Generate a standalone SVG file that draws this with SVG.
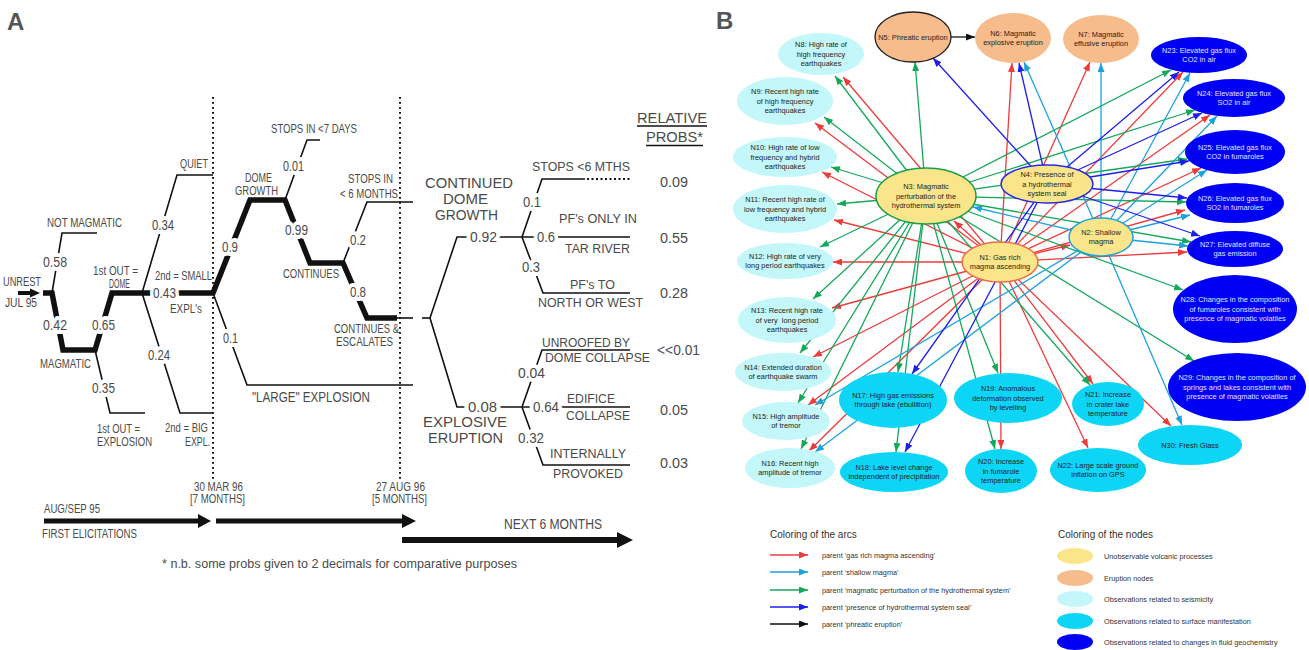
<svg xmlns="http://www.w3.org/2000/svg" width="1309" height="650" viewBox="0 0 1309 650">
<defs>
<style>
.ta{font-family:"Liberation Sans Narrow","Liberation Sans",Arial,sans-serif;fill:#4a4a4a}
.s12{font-size:12px}.s14{font-size:14px}.s15{font-size:15px}.s16{font-size:15px}
.halo{paint-order:stroke;stroke:#fff;stroke-width:8px;stroke-linejoin:round}
.thin{fill:none;stroke:#111;stroke-width:1.6}
.thick{fill:none;stroke:#111;stroke-width:5.5}
.dot{stroke:#111;stroke-width:2;stroke-dasharray:1.8 3.2}
.dots{stroke:#111;stroke-width:2;stroke-dasharray:2 2.5}
.lbl{font-family:"Liberation Sans",Arial,sans-serif;font-weight:bold;font-size:24px;fill:#555}
.nt{font-family:"Liberation Sans",Arial,sans-serif;font-size:7.4px;fill:#222;text-anchor:middle}
.ntw{fill:#e4e4ff}
.yel{fill:#fbe58b}.ora{fill:#f7bc8b}.sei{fill:#c3f7f9}.sur{fill:#0dd5f5}.geo{fill:#0000f5}
.e{stroke-width:1.3;fill:none}
.r{stroke:#ec3b3b;marker-end:url(#mr)}
.lb{stroke:#1da1dc;marker-end:url(#mlb)}
.g{stroke:#14a85b;marker-end:url(#mg)}
.b{stroke:#1f1fea;marker-end:url(#mb)}
.k{stroke:#111;marker-end:url(#mk)}
.lg{font-family:"Liberation Sans",Arial,sans-serif;font-size:7.3px;fill:#333}
.lgh{font-family:"Liberation Sans",Arial,sans-serif;font-size:10px;fill:#333}
</style>
<marker id="mr" markerUnits="userSpaceOnUse" markerWidth="9" markerHeight="7" refX="9" refY="3.5" orient="auto"><path d="M0,0 L9,3.5 L0,7 z" fill="#ec3b3b"/></marker>
<marker id="mlb" markerUnits="userSpaceOnUse" markerWidth="9" markerHeight="7" refX="9" refY="3.5" orient="auto"><path d="M0,0 L9,3.5 L0,7 z" fill="#1da1dc"/></marker>
<marker id="mg" markerUnits="userSpaceOnUse" markerWidth="9" markerHeight="7" refX="9" refY="3.5" orient="auto"><path d="M0,0 L9,3.5 L0,7 z" fill="#14a85b"/></marker>
<marker id="mb" markerUnits="userSpaceOnUse" markerWidth="9" markerHeight="7" refX="9" refY="3.5" orient="auto"><path d="M0,0 L9,3.5 L0,7 z" fill="#1f1fea"/></marker>
<marker id="mk" markerUnits="userSpaceOnUse" markerWidth="9" markerHeight="7" refX="9" refY="3.5" orient="auto"><path d="M0,0 L9,3.5 L0,7 z" fill="#111"/></marker>
</defs>
<rect width="1309" height="650" fill="#fff"/>

<!-- ================= PANEL A ================= -->
<g id="panelA">
<text class="lbl" x="7" y="30">A</text>
<!-- dotted time lines -->
<line class="dot" x1="213" y1="97" x2="213" y2="482"/>
<line class="dot" x1="400" y1="97" x2="400" y2="482"/>
<!-- unrest arrow -->
<path d="M18,291 H30 V288.5 L40,293 L30,297.5 V295 H18 z" fill="#111"/>
<!-- tree lines -->
<path class="thick" d="M43,293 L52,293 L63,350 L95,350 L112,293 L213,293 L250,200 L285,200 L310,263 L343,263 L367,318 L397,318"/>
<path class="thin" d="M52,293 L62,233 L97,233"/>
<path class="thin" d="M95,350 L110,413 L145,413"/>
<path class="thin" d="M142,293 L177,175 L213,175"/>
<path class="thin" d="M142,293 L180,413 L213,413"/>
<path class="thin" d="M285,200 L307,140 L320,140"/>
<path class="thin" d="M343,263 L367,202 L413,202"/>
<path class="thin" d="M397,318 L413,318"/>
<path class="thin" d="M213,293 L247,385 L413,385"/>
<path class="thin" d="M422,318 L430,318"/>
<path class="thin" d="M430,318 L457,237 L630,237"/>
<path class="thin" d="M522,237 L542,179 L585,179"/>
<line class="dots" x1="587" y1="179" x2="630" y2="179"/>
<path class="thin" d="M522,237 L543,293 L630,293"/>
<path class="thin" d="M430,318 L457,407 L630,407"/>
<path class="thin" d="M522,407 L542,350 L630,350"/>
<path class="thin" d="M522,407 L543,465 L630,465"/>
<!-- underlines -->
<line class="thin" x1="637" y1="126" x2="707" y2="126" stroke-width="1.2"/>
<line class="thin" x1="646" y1="145.5" x2="703" y2="145.5" stroke-width="1.2"/>
<!-- timeline arrows -->
<path d="M44,518.5 H198 V514 L211,521 L198,528 V523.5 H44 z" fill="#111"/>
<path d="M216,518.5 H402 V514 L416,521 L402,528 V523.5 H216 z" fill="#111"/>
<path d="M402,537 H617 V532 L633,540 L617,548 V543 H402 z" fill="#111"/>

<!-- texts -->
<text class="ta s12" x="3" y="286" textLength="38" lengthAdjust="spacingAndGlyphs">UNREST</text>
<text class="ta s12" x="5" y="307" textLength="32" lengthAdjust="spacingAndGlyphs">JUL 95</text>
<text class="ta s12" x="47" y="227" textLength="75" lengthAdjust="spacingAndGlyphs">NOT MAGMATIC</text>
<text class="ta s14 halo" x="43" y="267" textLength="24" lengthAdjust="spacingAndGlyphs">0.58</text>
<text class="ta s14 halo" x="43" y="330" textLength="24" lengthAdjust="spacingAndGlyphs">0.42</text>
<text class="ta s12" x="40" y="368" textLength="51" lengthAdjust="spacingAndGlyphs">MAGMATIC</text>
<text class="ta s12" x="93" y="275" textLength="45" lengthAdjust="spacingAndGlyphs">1st OUT =</text>
<text class="ta s12" x="109" y="288" textLength="21" lengthAdjust="spacingAndGlyphs">DOME</text>
<text class="ta s14 halo" x="92" y="330" textLength="23" lengthAdjust="spacingAndGlyphs">0.65</text>
<text class="ta s14 halo" x="92" y="393" textLength="23" lengthAdjust="spacingAndGlyphs">0.35</text>
<text class="ta s12" x="97" y="433" textLength="43" lengthAdjust="spacingAndGlyphs">1st OUT =</text>
<text class="ta s12" x="97" y="446" textLength="55" lengthAdjust="spacingAndGlyphs">EXPLOSION</text>
<text class="ta s12" x="180" y="168" textLength="28" lengthAdjust="spacingAndGlyphs">QUIET</text>
<text class="ta s14 halo" x="152" y="230" textLength="22" lengthAdjust="spacingAndGlyphs">0.34</text>
<text class="ta s12" x="155" y="280" textLength="57" lengthAdjust="spacingAndGlyphs">2nd = SMALL</text>
<text class="ta s14 halo" x="153" y="298" textLength="23" lengthAdjust="spacingAndGlyphs">0.43</text>
<text class="ta s12" x="170" y="313" textLength="32" lengthAdjust="spacingAndGlyphs">EXPL's</text>
<text class="ta s14 halo" x="148" y="360" textLength="22" lengthAdjust="spacingAndGlyphs">0.24</text>
<text class="ta s12" x="165" y="432" textLength="43" lengthAdjust="spacingAndGlyphs">2nd = BIG</text>
<text class="ta s12" x="185" y="446" textLength="25" lengthAdjust="spacingAndGlyphs">EXPL.</text>
<text class="ta s14 halo" x="222" y="252" textLength="16" lengthAdjust="spacingAndGlyphs">0.9</text>
<text class="ta s12" x="245" y="182" textLength="27" lengthAdjust="spacingAndGlyphs">DOME</text>
<text class="ta s12" x="235" y="195" textLength="43" lengthAdjust="spacingAndGlyphs">GROWTH</text>
<text class="ta s14 halo" x="283" y="171" textLength="21" lengthAdjust="spacingAndGlyphs">0.01</text>
<text class="ta s12" x="271" y="133" textLength="86" lengthAdjust="spacingAndGlyphs">STOPS IN &lt;7 DAYS</text>
<text class="ta s14 halo" x="285" y="235" textLength="23" lengthAdjust="spacingAndGlyphs">0.99</text>
<text class="ta s12" x="283" y="278" textLength="56" lengthAdjust="spacingAndGlyphs">CONTINUES</text>
<text class="ta s12" x="348" y="183" textLength="45" lengthAdjust="spacingAndGlyphs">STOPS IN</text>
<text class="ta s12" x="340" y="198" textLength="58" lengthAdjust="spacingAndGlyphs">&lt; 6 MONTHS</text>
<text class="ta s14 halo" x="350" y="245" textLength="16" lengthAdjust="spacingAndGlyphs">0.2</text>
<text class="ta s14 halo" x="350" y="297" textLength="16" lengthAdjust="spacingAndGlyphs">0.8</text>
<text class="ta s12" x="334" y="333" textLength="65" lengthAdjust="spacingAndGlyphs">CONTINUES &amp;</text>
<text class="ta s12" x="336" y="346" textLength="57" lengthAdjust="spacingAndGlyphs">ESCALATES</text>
<text class="ta s14 halo" x="223" y="343" textLength="15" lengthAdjust="spacingAndGlyphs">0.1</text>
<text class="ta s15" x="252" y="402" textLength="118" lengthAdjust="spacingAndGlyphs">"LARGE" EXPLOSION</text>
<text class="ta s16" x="425" y="188" textLength="88" lengthAdjust="spacingAndGlyphs">CONTINUED</text>
<text class="ta s16" x="443" y="204" textLength="45" lengthAdjust="spacingAndGlyphs">DOME</text>
<text class="ta s16" x="435" y="220" textLength="63" lengthAdjust="spacingAndGlyphs">GROWTH</text>
<text class="ta s14 halo" x="470" y="242" textLength="27" lengthAdjust="spacingAndGlyphs">0.92</text>
<text class="ta s12" x="532" y="171" textLength="98" lengthAdjust="spacingAndGlyphs">STOPS &lt;6 MTHS</text>
<text class="ta s14 halo" x="523" y="207" textLength="18" lengthAdjust="spacingAndGlyphs">0.1</text>
<text class="ta s12" x="559" y="223" textLength="78" lengthAdjust="spacingAndGlyphs">PF's ONLY IN</text>
<text class="ta s14 halo" x="537" y="242" textLength="18" lengthAdjust="spacingAndGlyphs">0.6</text>
<text class="ta s12" x="565" y="253" textLength="65" lengthAdjust="spacingAndGlyphs">TAR RIVER</text>
<text class="ta s14 halo" x="522" y="272" textLength="18" lengthAdjust="spacingAndGlyphs">0.3</text>
<text class="ta s12" x="570" y="289" textLength="45" lengthAdjust="spacingAndGlyphs">PF's TO</text>
<text class="ta s12" x="538" y="307" textLength="105" lengthAdjust="spacingAndGlyphs">NORTH OR WEST</text>
<text class="ta s12" x="542" y="347" textLength="88" lengthAdjust="spacingAndGlyphs">UNROOFED BY</text>
<text class="ta s12" x="545" y="362" textLength="105" lengthAdjust="spacingAndGlyphs">DOME COLLAPSE</text>
<text class="ta s14 halo" x="518" y="378" textLength="27" lengthAdjust="spacingAndGlyphs">0.04</text>
<text class="ta s14 halo" x="468" y="412" textLength="29" lengthAdjust="spacingAndGlyphs">0.08</text>
<text class="ta s14 halo" x="533" y="412" textLength="26" lengthAdjust="spacingAndGlyphs">0.64</text>
<text class="ta s12" x="567" y="403" textLength="48" lengthAdjust="spacingAndGlyphs">EDIFICE</text>
<text class="ta s12" x="566" y="420" textLength="64" lengthAdjust="spacingAndGlyphs">COLLAPSE</text>
<text class="ta s14 halo" x="518" y="443" textLength="26" lengthAdjust="spacingAndGlyphs">0.32</text>
<text class="ta s12" x="550" y="458" textLength="76" lengthAdjust="spacingAndGlyphs">INTERNALLY</text>
<text class="ta s12" x="553" y="478" textLength="70" lengthAdjust="spacingAndGlyphs">PROVOKED</text>
<text class="ta s16" x="423" y="427" textLength="84" lengthAdjust="spacingAndGlyphs">EXPLOSIVE</text>
<text class="ta s16" x="428" y="443" textLength="75" lengthAdjust="spacingAndGlyphs">ERUPTION</text>
<text class="ta s15" x="637" y="123" textLength="70" lengthAdjust="spacingAndGlyphs">RELATIVE</text>
<text class="ta s15" x="646" y="142" textLength="57" lengthAdjust="spacingAndGlyphs">PROBS*</text>
<text class="ta s15" x="660" y="187" textLength="28" lengthAdjust="spacingAndGlyphs">0.09</text>
<text class="ta s15" x="660" y="243" textLength="28" lengthAdjust="spacingAndGlyphs">0.55</text>
<text class="ta s15" x="660" y="298" textLength="28" lengthAdjust="spacingAndGlyphs">0.28</text>
<text class="ta s15" x="657" y="355" textLength="43" lengthAdjust="spacingAndGlyphs">&lt;&lt;0.01</text>
<text class="ta s15" x="660" y="415" textLength="28" lengthAdjust="spacingAndGlyphs">0.05</text>
<text class="ta s15" x="660" y="468" textLength="28" lengthAdjust="spacingAndGlyphs">0.03</text>
<text class="ta s12" x="194" y="491" textLength="49" lengthAdjust="spacingAndGlyphs">30 MAR 96</text>
<text class="ta s12" x="190" y="503" textLength="55" lengthAdjust="spacingAndGlyphs">[7 MONTHS]</text>
<text class="ta s12" x="376" y="491" textLength="49" lengthAdjust="spacingAndGlyphs">27 AUG 96</text>
<text class="ta s12" x="372" y="503" textLength="55" lengthAdjust="spacingAndGlyphs">[5 MONTHS]</text>
<text class="ta s12" x="44" y="513" textLength="56" lengthAdjust="spacingAndGlyphs">AUG/SEP 95</text>
<text class="ta s12" x="42" y="538" textLength="95" lengthAdjust="spacingAndGlyphs">FIRST ELICITATIONS</text>
<text class="ta s15" x="504" y="529" textLength="98" lengthAdjust="spacingAndGlyphs">NEXT 6 MONTHS</text>
<text class="ta" font-size="13" x="162" y="568" textLength="355" lengthAdjust="spacingAndGlyphs">* n.b. some probs given to 2 decimals for comparative purposes</text>
</g>

<!-- ================= PANEL B ================= -->
<text class="lbl" x="716" y="29">B</text>

<g id="connectors">
<!-- N1 gas rich magma ascending (red) -->
<line class="e r" x1="1000" y1="262" x2="843" y2="77"/>
<line class="e r" x1="1000" y1="262" x2="815" y2="123"/>
<line class="e r" x1="1000" y1="262" x2="822" y2="172"/>
<line class="e r" x1="1000" y1="262" x2="834" y2="220"/>
<line class="e r" x1="1000" y1="262" x2="833" y2="262"/>
<line class="e r" x1="1000" y1="262" x2="832" y2="308"/>
<line class="e r" x1="1000" y1="262" x2="813" y2="357"/>
<line class="e r" x1="1000" y1="262" x2="808" y2="405"/>
<line class="e r" x1="1000" y1="262" x2="809" y2="451"/>
<line class="e r" x1="1000" y1="262" x2="1001" y2="449"/>
<line class="e r" x1="1000" y1="262" x2="1093" y2="384"/>
<line class="e r" x1="1000" y1="262" x2="1088" y2="448"/>
<line class="e r" x1="1000" y1="262" x2="1171" y2="426"/>
<line class="e r" x1="1000" y1="262" x2="1187" y2="252"/>
<line class="e r" x1="1000" y1="262" x2="1185" y2="210"/>
<line class="e r" x1="1000" y1="262" x2="1201" y2="168"/>
<line class="e r" x1="1000" y1="262" x2="1210" y2="115"/>
<line class="e r" x1="1000" y1="262" x2="1183" y2="72"/>
<line class="e r" x1="1000" y1="262" x2="1090" y2="62"/>
<line class="e r" x1="1000" y1="262" x2="1012" y2="63"/>
<line class="e r" x1="1000" y1="262" x2="954" y2="221"/>
<line class="e r" x1="1000" y1="262" x2="1070" y2="245"/>
<!-- N3 magmatic perturbation (green) -->
<line class="e g" x1="926" y1="196" x2="835" y2="76"/>
<line class="e g" x1="926" y1="196" x2="824" y2="117"/>
<line class="e g" x1="926" y1="196" x2="831" y2="167"/>
<line class="e g" x1="926" y1="196" x2="837" y2="204"/>
<line class="e g" x1="926" y1="196" x2="820" y2="247"/>
<line class="e g" x1="926" y1="196" x2="813" y2="299"/>
<line class="e g" x1="926" y1="196" x2="800" y2="353"/>
<line class="e g" x1="926" y1="196" x2="798" y2="403"/>
<line class="e g" x1="926" y1="196" x2="801" y2="449"/>
<line class="e g" x1="926" y1="196" x2="898" y2="372"/>
<line class="e g" x1="926" y1="196" x2="896" y2="452"/>
<line class="e g" x1="926" y1="196" x2="998" y2="373"/>
<line class="e g" x1="926" y1="196" x2="995" y2="449"/>
<line class="e g" x1="926" y1="196" x2="1090" y2="385"/>
<line class="e g" x1="926" y1="196" x2="1183" y2="290"/>
<line class="e g" x1="926" y1="196" x2="1194" y2="361"/>
<line class="e g" x1="926" y1="196" x2="1191" y2="242"/>
<line class="e g" x1="926" y1="196" x2="1186" y2="202"/>
<line class="e g" x1="926" y1="196" x2="1187" y2="159"/>
<line class="e g" x1="926" y1="196" x2="1195" y2="110"/>
<line class="e g" x1="926" y1="196" x2="1171" y2="70"/>
<line class="e g" x1="926" y1="196" x2="915" y2="62"/>
<!-- N2 shallow magma (light blue) -->
<line class="e lb" x1="1101" y1="237" x2="815" y2="405"/>
<line class="e lb" x1="1101" y1="237" x2="815" y2="452"/>
<line class="e lb" x1="1101" y1="237" x2="1182" y2="425"/>
<line class="e lb" x1="1101" y1="237" x2="1188" y2="246"/>
<line class="e lb" x1="1101" y1="237" x2="1190" y2="215"/>
<line class="e lb" x1="1101" y1="237" x2="1207" y2="170"/>
<line class="e lb" x1="1101" y1="237" x2="1217" y2="116"/>
<line class="e lb" x1="1101" y1="237" x2="1190" y2="73"/>
<line class="e lb" x1="1101" y1="237" x2="1101" y2="63"/>
<line class="e lb" x1="1101" y1="237" x2="1024" y2="62"/>
<line class="e lb" x1="1101" y1="237" x2="973" y2="207"/>
<!-- N4 hydrothermal seal (blue) -->
<line class="e b" x1="1047" y1="184" x2="933" y2="58"/>
<line class="e b" x1="1047" y1="184" x2="1019" y2="63"/>
<line class="e b" x1="1047" y1="184" x2="1179" y2="72"/>
<line class="e b" x1="1047" y1="184" x2="1202" y2="113"/>
<line class="e b" x1="1047" y1="184" x2="1189" y2="161"/>
<line class="e b" x1="1047" y1="184" x2="1187" y2="198"/>
<line class="e b" x1="1047" y1="184" x2="1200" y2="236"/>
<line class="e b" x1="1047" y1="184" x2="912" y2="374"/>
<line class="e b" x1="1047" y1="184" x2="905" y2="452"/>
<!-- N5 phreatic eruption (black) -->
<line class="e k" x1="951" y1="37" x2="975" y2="37"/>
</g>

<g id="n5"><ellipse class="ora" cx="913" cy="37" rx="38" ry="25" stroke="#222" stroke-width="1.3"/><text class="nt" x="913" y="39.5">N5: Phreatic eruption</text></g>
<g id="n6"><ellipse class="ora" cx="1013" cy="38" rx="38" ry="25"/><text class="nt" x="1013" y="35.8">N6: Magmatic</text><text class="nt" x="1013" y="45.4">explosive eruption</text></g>
<g id="n7"><ellipse class="ora" cx="1101" cy="39" rx="38" ry="24"/><text class="nt" x="1101" y="36.8">N7: Magmatic</text><text class="nt" x="1101" y="46.4">effusive eruption</text></g>

<g id="n8"><ellipse class="sei" cx="821" cy="54" rx="43" ry="21"/><text class="nt" x="821" y="47">N8: High rate of</text><text class="nt" x="821" y="56.6">high frequency</text><text class="nt" x="821" y="66.2">earthquakes</text></g>
<g id="n9"><ellipse class="sei" cx="785" cy="101" rx="48" ry="24"/><text class="nt" x="785" y="94">N9: Recent high rate</text><text class="nt" x="785" y="103.6">of high frequency</text><text class="nt" x="785" y="113.2">earthquakes</text></g>
<g id="n10"><ellipse class="sei" cx="785" cy="157" rx="52" ry="20"/><text class="nt" x="785" y="150">N10: High rate of low</text><text class="nt" x="785" y="159.6">frequency and hybrid</text><text class="nt" x="785" y="169.2">earthquakes</text></g>
<g id="n11"><ellipse class="sei" cx="785" cy="209" rx="52" ry="24"/><text class="nt" x="785" y="202">N11: Recent high rate of</text><text class="nt" x="785" y="211.6">low frequency and hybrid</text><text class="nt" x="785" y="221.2">earthquakes</text></g>
<g id="n12"><ellipse class="sei" cx="785" cy="261" rx="48" ry="18"/><text class="nt" x="785" y="258.8">N12: High rate of very</text><text class="nt" x="785" y="268.4">long period earthquakes</text></g>
<g id="n13"><ellipse class="sei" cx="787" cy="320" rx="49" ry="23"/><text class="nt" x="787" y="313">N13: Recent high rate</text><text class="nt" x="787" y="322.6" xml:space="preserve">of very  long period</text><text class="nt" x="787" y="332.2">earthquakes</text></g>
<g id="n14"><ellipse class="sei" cx="783" cy="372" rx="48" ry="19"/><text class="nt" x="783" y="369.8">N14: Extended duration</text><text class="nt" x="783" y="379.4">of earthquake swarm</text></g>
<g id="n15"><ellipse class="sei" cx="786" cy="421" rx="44" ry="19"/><text class="nt" x="786" y="418.8">N15: High amplitude</text><text class="nt" x="786" y="428.4">of tremor</text></g>
<g id="n16"><ellipse class="sei" cx="790" cy="468" rx="45" ry="20"/><text class="nt" x="790" y="465.8">N16: Recent high</text><text class="nt" x="790" y="475.4">amplitude of tremor</text></g>

<g id="n17"><ellipse class="sur" cx="893" cy="400" rx="54" ry="28"/><text class="nt" x="893" y="397.8">N17: High gas emissions</text><text class="nt" x="893" y="407.4">through lake (ebullition)</text></g>
<g id="n18"><ellipse class="sur" cx="894" cy="472" rx="54" ry="20"/><text class="nt" x="894" y="469.8">N18: Lake level change</text><text class="nt" x="894" y="479.4">independent of precipitation</text></g>
<g id="n19"><ellipse class="sur" cx="1008" cy="398" rx="54" ry="25"/><text class="nt" x="1008" y="391">N19: Anomalous</text><text class="nt" x="1008" y="400.6">deformation observed</text><text class="nt" x="1008" y="410.2">by levelling</text></g>
<g id="n20"><ellipse class="sur" cx="1001" cy="471" rx="36" ry="22"/><text class="nt" x="1001" y="464">N20: Increase</text><text class="nt" x="1001" y="473.6">in fumarole</text><text class="nt" x="1001" y="483.2">temperature</text></g>
<g id="n21"><ellipse class="sur" cx="1108" cy="404" rx="36" ry="22"/><text class="nt" x="1108" y="397">N21: Increase</text><text class="nt" x="1108" y="406.6">in crater lake</text><text class="nt" x="1108" y="416.2">temperature</text></g>
<g id="n22"><ellipse class="sur" cx="1098" cy="470" rx="48" ry="22"/><text class="nt" x="1098" y="467.8">N22: Large scale ground</text><text class="nt" x="1098" y="477.4">inflation on GPS</text></g>
<g id="n30"><ellipse class="sur" cx="1190" cy="445" rx="52" ry="20"/><text class="nt" x="1190" y="447.5">N30: Fresh Glass</text></g>

<g id="n23"><ellipse class="geo" cx="1199" cy="55" rx="48" ry="18"/><text class="nt ntw" x="1199" y="52.8">N23: Elevated gas flux</text><text class="nt ntw" x="1199" y="62.4">CO2 in air</text></g>
<g id="n24"><ellipse class="geo" cx="1234" cy="98" rx="51" ry="19"/><text class="nt ntw" x="1234" y="95.8">N24: Elevated gas flux</text><text class="nt ntw" x="1234" y="105.4">SO2 in air</text></g>
<g id="n25"><ellipse class="geo" cx="1235" cy="152" rx="50" ry="22"/><text class="nt ntw" x="1235" y="149.8">N25: Elevated gas flux</text><text class="nt ntw" x="1235" y="159.4">CO2 in fumaroles</text></g>
<g id="n26"><ellipse class="geo" cx="1235" cy="203" rx="49" ry="20"/><text class="nt ntw" x="1235" y="200.8">N26: Elevated gas flux</text><text class="nt ntw" x="1235" y="210.4">SO2 in fumaroles</text></g>
<g id="n27"><ellipse class="geo" cx="1235" cy="249" rx="48" ry="18"/><text class="nt ntw" x="1235" y="246.8">N27: Elevated diffuse</text><text class="nt ntw" x="1235" y="256.4">gas emission</text></g>
<g id="n28"><ellipse class="geo" cx="1235" cy="309" rx="62" ry="34"/><text class="nt ntw" x="1235" y="302">N28: Changes in the composition</text><text class="nt ntw" x="1235" y="311.6">of fumaroles consistent with</text><text class="nt ntw" x="1235" y="321.2">presence of magmatic volatiles</text></g>
<g id="n29"><ellipse class="geo" cx="1237" cy="387" rx="69" ry="34"/><text class="nt ntw" x="1237" y="380">N29: Changes in the composition of</text><text class="nt ntw" x="1237" y="389.6">springs and lakes consistent with</text><text class="nt ntw" x="1237" y="399.2">presence of magmatic volatiles</text></g>

<g id="n3"><ellipse class="yel" cx="926" cy="196" rx="50" ry="28" stroke="#1a9e4a" stroke-width="1.5"/><text class="nt" x="926" y="189">N3: Magmatic</text><text class="nt" x="926" y="198.6">perturbation of the</text><text class="nt" x="926" y="208.2">hydrothermal system</text></g>
<g id="n4"><ellipse class="yel" cx="1047" cy="184" rx="46" ry="19" stroke="#2a2ae0" stroke-width="1.5"/><text class="nt" x="1047" y="177">N4: Presence of</text><text class="nt" x="1047" y="186.6">a hydrothermal</text><text class="nt" x="1047" y="196.2">system seal</text></g>
<g id="n2"><ellipse class="yel" cx="1101" cy="237" rx="32" ry="19" stroke="#1da1dc" stroke-width="1.5"/><text class="nt" x="1101" y="234.8">N2: Shallow</text><text class="nt" x="1101" y="244.4">magma</text></g>
<g id="n1"><ellipse class="yel" cx="1000" cy="262" rx="38" ry="20" stroke="#ee6b47" stroke-width="1.5"/><text class="nt" x="1000" y="259.8">N1: Gas rich</text><text class="nt" x="1000" y="269.4">magma ascending</text></g>

<!-- legend -->
<g id="legend-arcs">
<text class="lgh" x="770" y="538">Coloring of the arcs</text>
<line class="e r" x1="770" y1="555" x2="808" y2="555"/>
<line class="e lb" x1="770" y1="572" x2="808" y2="572"/>
<line class="e g" x1="770" y1="590" x2="808" y2="590"/>
<line class="e b" x1="770" y1="607" x2="808" y2="607"/>
<line class="e k" x1="770" y1="624" x2="808" y2="624"/>
<text class="lg" x="822" y="557.5">parent ‘gas rich magma ascending’</text>
<text class="lg" x="822" y="574.5">parent ‘shallow magma’</text>
<text class="lg" x="822" y="592.5">parent ‘magmatic perturbation of the hydrothermal system’</text>
<text class="lg" x="822" y="609.5">parent ‘presence of hydrothermal system seal’</text>
<text class="lg" x="822" y="626.5">parent ‘phreatic eruption’</text>
</g>
<g id="legend-nodes">
<text class="lgh" x="1058" y="538">Coloring of the nodes</text>
<ellipse class="yel" cx="1075" cy="556" rx="18" ry="8"/>
<ellipse class="ora" cx="1075" cy="578" rx="18" ry="8"/>
<ellipse class="sei" cx="1075" cy="599" rx="18" ry="8"/>
<ellipse class="sur" cx="1075" cy="621" rx="18" ry="8"/>
<ellipse class="geo" cx="1075" cy="642" rx="18" ry="8"/>
<text class="lg" x="1104" y="558.5">Unobservable volcanic processes</text>
<text class="lg" x="1104" y="580.5">Eruption nodes</text>
<text class="lg" x="1104" y="601.5">Observations related to seismicity</text>
<text class="lg" x="1104" y="623.5">Observations related to surface manifestation</text>
<text class="lg" x="1104" y="644.5">Observations related to changes in fluid geochemistry</text>
</g>
</svg>
